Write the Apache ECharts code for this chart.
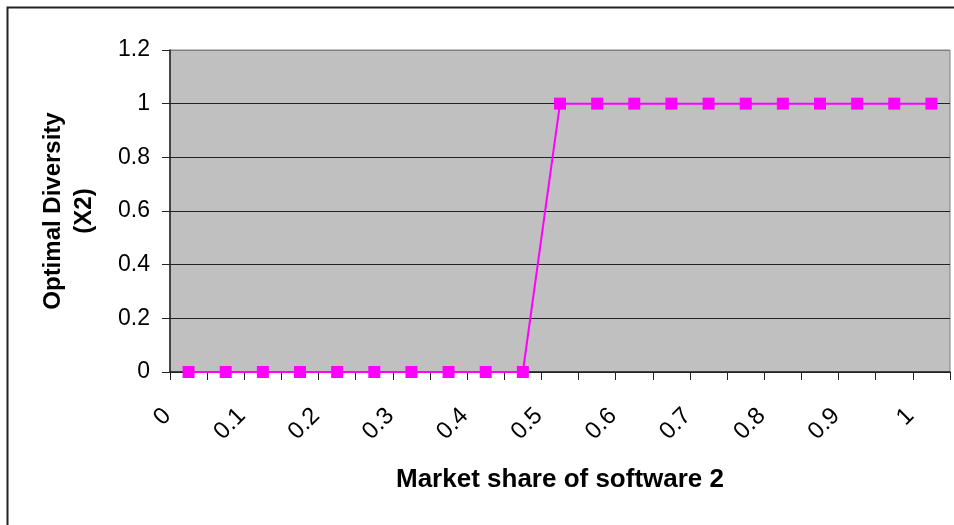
<!DOCTYPE html>
<html>
<head>
<meta charset="utf-8">
<script src="https://cdn.jsdelivr.net/npm/echarts@6/dist/echarts.min.js"></script>
<style>
html,body{margin:0;padding:0;background:#fff;}
#chart{width:954px;height:525px;}
</style>
</head>
<body>
<div id="chart"></div>
<script>
const marketShare = ['0','0.05','0.1','0.15','0.2','0.25','0.3','0.35','0.4','0.45','0.5','0.55','0.6','0.65','0.7','0.75','0.8','0.85','0.9','0.95','1'];
const optimalDiversity = [0,0,0,0,0,0,0,0,0,0,1,1,1,1,1,1,1,1,1,1,1];
const yTicks = [0, 0.2, 0.4, 0.6, 0.8, 1, 1.2];

const FONT = "'Liberation Sans', Arial, sans-serif";
const chart = echarts.init(document.getElementById('chart'), null, {renderer: 'canvas'});
chart.setOption({
  animation: false,
  backgroundColor: '#fff',
  textStyle: {fontFamily: FONT},
  graphic: [{
    type: 'rect',
    shape: {x: 7.5, y: 7.5, width: 1000, height: 1000},
    style: {fill: 'none', stroke: '#222', lineWidth: 2},
    silent: true, z: -1
  }],
  grid: {
    left: 170, right: 4, top: 50, bottom: 153,
    show: true, backgroundColor: '#C0C0C0', borderColor: '#808080', borderWidth: 1
  },
  xAxis: {
    type: 'category',
    data: marketShare,
    boundaryGap: true,
    name: 'Market share of software 2',
    nameLocation: 'middle',
    nameGap: 95,
    nameTextStyle: {fontSize: 26, fontWeight: 'bold', color: '#000', fontFamily: FONT},
    axisLine: {show: true, lineStyle: {color: '#222', width: 1.5}},
    axisTick: {show: true, interval: 0, length: 8, lineStyle: {color: '#222'}},
    axisLabel: {
      interval: 1, rotate: 45, margin: 19, padding: [0, 30, 0, 0],
      fontSize: 24, color: '#000', fontFamily: FONT
    },
    splitLine: {show: false}
  },
  yAxis: {
    type: 'value',
    min: yTicks[0], max: yTicks[yTicks.length - 1], interval: 0.2,
    name: 'Optimal Diversity\n(X2)',
    nameLocation: 'middle',
    nameGap: 70,
    nameRotate: 90,
    nameTextStyle: {fontSize: 24, fontWeight: 'bold', color: '#000', lineHeight: 31, fontFamily: FONT},
    axisLine: {show: true, lineStyle: {color: '#222', width: 1.5}},
    axisTick: {show: true, length: 8, lineStyle: {color: '#222'}},
    axisLabel: {margin: 20, fontSize: 23, color: '#000', fontFamily: FONT},
    splitLine: {show: true, lineStyle: {color: ['#222','#222','#222','#222','#222','#222','#808080'], width: 1}}
  },
  series: [{
    type: 'line',
    data: optimalDiversity,
    symbol: 'rect',
    symbolSize: 12,
    lineStyle: {color: '#FF00FF', width: 2},
    itemStyle: {color: '#FF00FF'},
    z: 5
  }]
});
</script>
</body>
</html>
